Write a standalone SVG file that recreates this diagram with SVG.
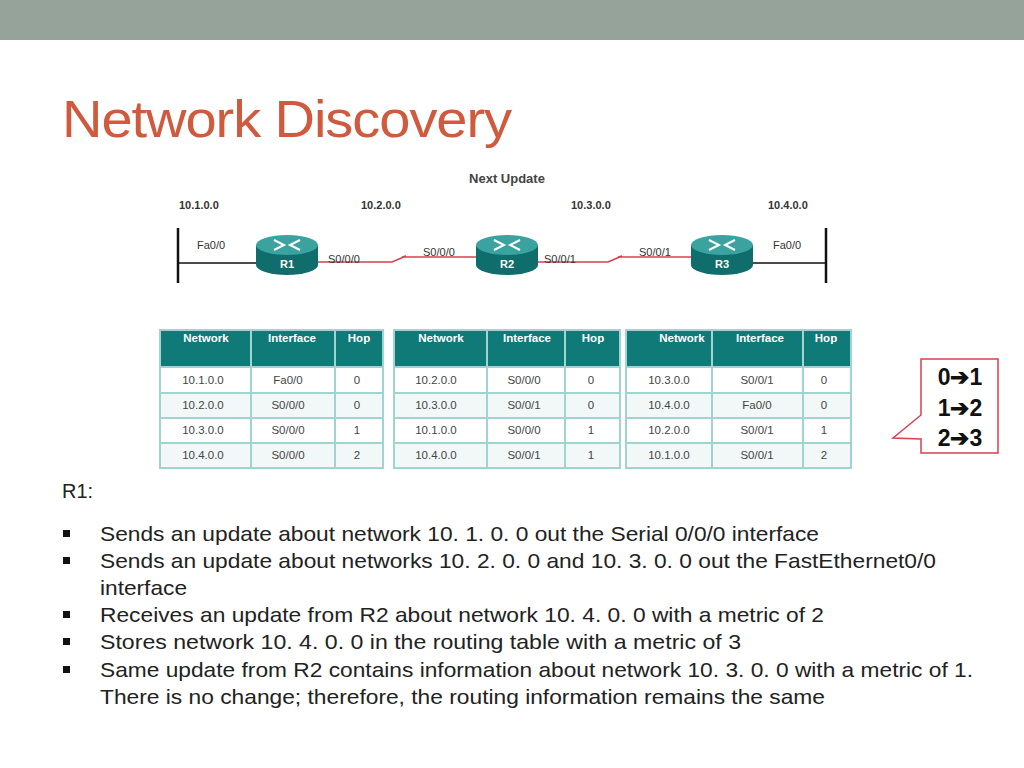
<svg xmlns="http://www.w3.org/2000/svg" width="1024" height="768" viewBox="0 0 1024 768">
<defs>
<style>
.t{font-family:"Liberation Sans",Arial,sans-serif}
.body{font-size:21px;fill:#222}
.lbl{font-size:11px;fill:#333}
.net{font-size:11px;font-weight:bold;fill:#333}
.th{font-size:11.5px;fill:#fff;font-weight:bold}
.td{font-size:11.5px;fill:#444}
.cell{fill:#fff;stroke:#9fd4cf;stroke-width:2}
.cellb{fill:#f1f8f7;stroke:#9fd4cf;stroke-width:2}
.hdc{fill:#0f7a78;stroke:#9fd4cf;stroke-width:2}
</style>
<g id="router"><path d="M-31,-9 L-31,11 A31,10 0 0 0 31,11 L31,-9 Z" fill="#0f6d6b"/><ellipse cx="0" cy="-9" rx="31" ry="10" fill="#3aa3a0"/><path d="M-13,-14 L-3,-9 L-13,-4 M13,-14 L3,-9 L13,-4" fill="none" stroke="#fff" stroke-width="2"/></g>
</defs>
<rect width="1024" height="768" fill="#fff"/>
<rect width="1024" height="40" fill="#95a39a"/>
<text class="t" x="62" y="137" font-size="52" fill="#cf5a3e" letter-spacing="-1" textLength="449" lengthAdjust="spacingAndGlyphs">Network Discovery</text>
<text class="t" x="507" y="183" font-size="13" font-weight="bold" fill="#444" text-anchor="middle">Next Update</text>
<g class="t net"><text x="179" y="209">10.1.0.0</text><text x="361" y="209">10.2.0.0</text><text x="571" y="209">10.3.0.0</text><text x="768" y="209">10.4.0.0</text></g>
<g id="connectors">
<path d="M178,228 V283 M826,228 V283" stroke="#111" stroke-width="2.5"/>
<path d="M178,263 H256 M752,263 H826" stroke="#111" stroke-width="1.5"/>
<path d="M318,262 H392 L406,256 L402,257 H476 M538,262 H608 L622,256 L618,257 H692" fill="none" stroke="#d64050" stroke-width="1.5"/>
</g>
<g id="R1"><use href="#router" x="287" y="254"/><text class="t" x="287" y="268" font-size="11" font-weight="bold" fill="#fff" text-anchor="middle">R1</text></g>
<g id="R2"><use href="#router" x="507" y="254"/><text class="t" x="507" y="268" font-size="11" font-weight="bold" fill="#fff" text-anchor="middle">R2</text></g>
<g id="R3"><use href="#router" x="722" y="254"/><text class="t" x="722" y="268" font-size="11" font-weight="bold" fill="#fff" text-anchor="middle">R3</text></g>
<g class="t lbl"><text x="197" y="249">Fa0/0</text><text x="328" y="263">S0/0/0</text><text x="423" y="256">S0/0/0</text><text x="544" y="263">S0/0/1</text><text x="639" y="256">S0/0/1</text><text x="773" y="249">Fa0/0</text></g>
<g id="table1" class="t">
<rect class="hdc" x="160" y="330" width="91" height="37"/><rect class="hdc" x="251" y="330" width="84" height="37"/><rect class="hdc" x="335" y="330" width="48" height="37"/>
<rect class="cell" x="160" y="367" width="91" height="26"/><rect class="cell" x="251" y="367" width="84" height="26"/><rect class="cell" x="335" y="367" width="48" height="26"/>
<rect class="cellb" x="160" y="393" width="91" height="25"/><rect class="cellb" x="251" y="393" width="84" height="25"/><rect class="cellb" x="335" y="393" width="48" height="25"/>
<rect class="cell" x="160" y="418" width="91" height="25"/><rect class="cell" x="251" y="418" width="84" height="25"/><rect class="cell" x="335" y="418" width="48" height="25"/>
<rect class="cellb" x="160" y="443" width="91" height="25"/><rect class="cellb" x="251" y="443" width="84" height="25"/><rect class="cellb" x="335" y="443" width="48" height="25"/>
<g class="th" text-anchor="middle"><text x="206" y="342">Network</text><text x="292" y="342">Interface</text><text x="359" y="342">Hop</text></g>
<g class="td" text-anchor="middle"><text x="203" y="384">10.1.0.0</text><text x="288" y="384">Fa0/0</text><text x="357" y="384">0</text>
<text x="203" y="409">10.2.0.0</text><text x="288" y="409">S0/0/0</text><text x="357" y="409">0</text>
<text x="203" y="434">10.3.0.0</text><text x="288" y="434">S0/0/0</text><text x="357" y="434">1</text>
<text x="203" y="459">10.4.0.0</text><text x="288" y="459">S0/0/0</text><text x="357" y="459">2</text></g>
</g>
<g id="table2" class="t">
<rect class="hdc" x="394" y="330" width="93" height="37"/><rect class="hdc" x="487" y="330" width="78" height="37"/><rect class="hdc" x="565" y="330" width="55" height="37"/>
<rect class="cell" x="394" y="367" width="93" height="26"/><rect class="cell" x="487" y="367" width="78" height="26"/><rect class="cell" x="565" y="367" width="55" height="26"/>
<rect class="cellb" x="394" y="393" width="93" height="25"/><rect class="cellb" x="487" y="393" width="78" height="25"/><rect class="cellb" x="565" y="393" width="55" height="25"/>
<rect class="cell" x="394" y="418" width="93" height="25"/><rect class="cell" x="487" y="418" width="78" height="25"/><rect class="cell" x="565" y="418" width="55" height="25"/>
<rect class="cellb" x="394" y="443" width="93" height="25"/><rect class="cellb" x="487" y="443" width="78" height="25"/><rect class="cellb" x="565" y="443" width="55" height="25"/>
<g class="th" text-anchor="middle"><text x="441" y="342">Network</text><text x="527" y="342">Interface</text><text x="593" y="342">Hop</text></g>
<g class="td" text-anchor="middle"><text x="436" y="384">10.2.0.0</text><text x="524" y="384">S0/0/0</text><text x="591" y="384">0</text>
<text x="436" y="409">10.3.0.0</text><text x="524" y="409">S0/0/1</text><text x="591" y="409">0</text>
<text x="436" y="434">10.1.0.0</text><text x="524" y="434">S0/0/0</text><text x="591" y="434">1</text>
<text x="436" y="459">10.4.0.0</text><text x="524" y="459">S0/0/1</text><text x="591" y="459">1</text></g>
</g>
<g id="table3" class="t">
<rect class="hdc" x="626" y="330" width="86" height="37"/><rect class="hdc" x="712" y="330" width="91" height="37"/><rect class="hdc" x="803" y="330" width="48" height="37"/>
<rect class="cell" x="626" y="367" width="86" height="26"/><rect class="cell" x="712" y="367" width="91" height="26"/><rect class="cell" x="803" y="367" width="48" height="26"/>
<rect class="cellb" x="626" y="393" width="86" height="25"/><rect class="cellb" x="712" y="393" width="91" height="25"/><rect class="cellb" x="803" y="393" width="48" height="25"/>
<rect class="cell" x="626" y="418" width="86" height="25"/><rect class="cell" x="712" y="418" width="91" height="25"/><rect class="cell" x="803" y="418" width="48" height="25"/>
<rect class="cellb" x="626" y="443" width="86" height="25"/><rect class="cellb" x="712" y="443" width="91" height="25"/><rect class="cellb" x="803" y="443" width="48" height="25"/>
<g class="th" text-anchor="middle"><text x="682" y="342">Network</text><text x="760" y="342">Interface</text><text x="826" y="342">Hop</text></g>
<g class="td" text-anchor="middle"><text x="669" y="384">10.3.0.0</text><text x="757" y="384">S0/0/1</text><text x="824" y="384">0</text>
<text x="669" y="409">10.4.0.0</text><text x="757" y="409">Fa0/0</text><text x="824" y="409">0</text>
<text x="669" y="434">10.2.0.0</text><text x="757" y="434">S0/0/1</text><text x="824" y="434">1</text>
<text x="669" y="459">10.1.0.0</text><text x="757" y="459">S0/0/1</text><text x="824" y="459">2</text></g>
</g>
<g id="callout">
<path d="M921,359 H998 V453 H921 V439 L893,438 L921,415 Z" fill="#fff" stroke="#d64050" stroke-width="1.5"/>
<g class="t" font-size="23" font-weight="bold" fill="#111" text-anchor="middle"><text x="960" y="385">0➔1</text><text x="960" y="416">1➔2</text><text x="960" y="446">2➔3</text></g>
</g>
<g class="t body">
<text x="62" y="498" textLength="31" lengthAdjust="spacingAndGlyphs">R1:</text>
<g fill="#111"><rect x="63" y="530" width="7" height="7"/><rect x="63" y="557" width="7" height="7"/><rect x="63" y="611" width="7" height="7"/><rect x="63" y="638" width="7" height="7"/><rect x="63" y="666" width="7" height="7"/></g>
<text x="100" y="541" textLength="719" lengthAdjust="spacingAndGlyphs">Sends an update about network 10. 1. 0. 0 out the Serial 0/0/0 interface</text>
<text x="100" y="568" textLength="836" lengthAdjust="spacingAndGlyphs">Sends an update about networks 10. 2. 0. 0 and 10. 3. 0. 0 out the FastEthernet0/0</text>
<text x="100" y="595" textLength="87" lengthAdjust="spacingAndGlyphs">interface</text>
<text x="100" y="622" textLength="724" lengthAdjust="spacingAndGlyphs">Receives an update from R2 about network 10. 4. 0. 0 with a metric of 2</text>
<text x="100" y="649" textLength="641" lengthAdjust="spacingAndGlyphs">Stores network 10. 4. 0. 0 in the routing table with a metric of 3</text>
<text x="100" y="677" textLength="873" lengthAdjust="spacingAndGlyphs">Same update from R2 contains information about network 10. 3. 0. 0 with a metric of 1.</text>
<text x="100" y="704" textLength="725" lengthAdjust="spacingAndGlyphs">There is no change; therefore, the routing information remains the same</text>
</g>
</svg>
